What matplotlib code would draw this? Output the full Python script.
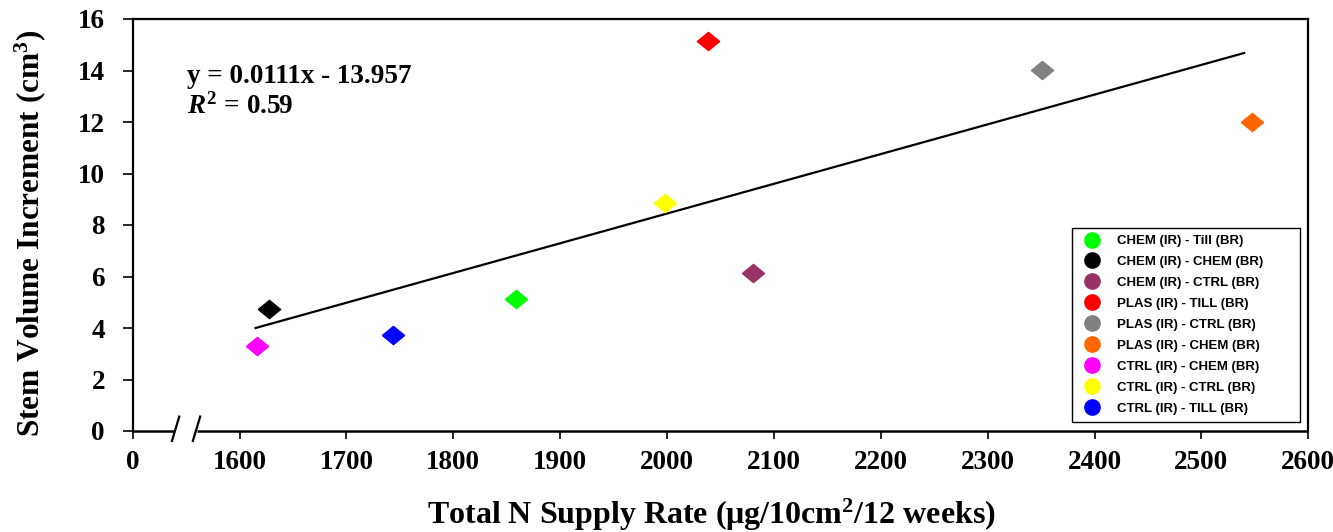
import matplotlib
matplotlib.use("Agg")
import matplotlib.pyplot as plt
from matplotlib.lines import Line2D

# datos
etiquetas = ["CHEM (IR) - Till (BR)", "CHEM (IR) - CHEM (BR)", "CHEM (IR) - CTRL (BR)",
             "PLAS (IR) - TILL (BR)", "PLAS (IR) - CTRL (BR)", "PLAS (IR) - CHEM (BR)",
             "CTRL (IR) - CHEM (BR)", "CTRL (IR) - CTRL (BR)", "CTRL (IR) - TILL (BR)"]
colores = ["#00FF00", "#000000", "#993366", "#FF0000", "#808080", "#FF6600",
           "#FF00FF", "#FFFF00", "#0000FF"]
n_supply = [1859, 1628, 2080, 2038, 2351, 2547, 1616, 1998, 1744]
volumen = [5.13, 4.74, 6.14, 15.15, 14.02, 12.0, 3.3, 8.85, 3.73]

# linea de tendencia (extremos leidos)
tend_x = [1615, 2540]
tend_y = [4.0, 14.68]

x_ticks = [1500, 1600, 1700, 1800, 1900, 2000, 2100, 2200, 2300, 2400, 2500, 2600]
x_labels = ["0"] + [str(v) for v in x_ticks[1:]]
y_ticks = list(range(0, 17, 2))

plt.rcParams["mathtext.fontset"] = "custom"
plt.rcParams["mathtext.rm"] = "Liberation Serif:bold"
plt.rcParams["mathtext.it"] = "Liberation Serif:bold:italic"
plt.rcParams["mathtext.bf"] = "Liberation Serif:bold"
plt.rcParams["mathtext.default"] = "rm"

fig = plt.figure(figsize=(13.33, 5.32), dpi=100)
ax = fig.add_axes([132.7 / 1333, 101 / 532, 1175.6 / 1333, 412 / 532])

diamante = [(-1, 0), (0, 0.82), (1, 0), (0, -0.82), (-1, 0)]
ax.plot(tend_x, tend_y, color="black", lw=1.6, zorder=2)
for x, y, c in zip(n_supply, volumen, colores):
    ax.plot(x, y, marker=diamante, ms=16, color=c, mec=c, ls="none", zorder=3)

ax.set_xlim(1500, 2600)
ax.set_ylim(0, 16)
ax.set_xticks(x_ticks)
ax.set_xticklabels(x_labels)
ax.set_yticks(y_ticks)

for lab in ax.get_xticklabels() + ax.get_yticklabels():
    lab.set_fontfamily("Liberation Serif")
    lab.set_fontweight("bold")
    lab.set_fontsize(19.5)

ax.tick_params(axis="x", direction="out", length=6, width=1.2, pad=8)
ax.tick_params(axis="y", direction="out", length=7, width=1.2, pad=13)

for s in ["top", "right", "left"]:
    ax.spines[s].set_linewidth(1.6)
ax.spines["bottom"].set_visible(False)

# eje x cortado
ax.plot([0, 0.0349], [0, 0], transform=ax.transAxes, color="black", lw=1.8,
        clip_on=False, solid_capstyle="butt")
ax.plot([0.0545, 1], [0, 0], transform=ax.transAxes, color="black", lw=1.8,
        clip_on=False, solid_capstyle="butt")
for x0 in [0.0334, 0.0512]:
    ax.plot([x0, x0 + 0.0062], [-0.024, 0.035], transform=ax.transAxes,
            color="black", lw=1.6, clip_on=False)

ax.set_ylabel("Stem Volume Increment (cm$^3$)", fontfamily="Liberation Serif",
              fontweight="bold", fontsize=22.5, va="center")
ax.yaxis.set_label_coords(-0.087, 0.48)
ax.set_xlabel("Total N Supply Rate (μg/10cm$^2$/12 weeks)", fontfamily="Liberation Serif",
              fontweight="bold", fontsize=23, va="center")
ax.xaxis.set_label_coords(0.492, -0.204)

ax.text(0.046, 0.86, "y = 0.0111x - 13.957", transform=ax.transAxes,
        fontfamily="Liberation Serif", fontweight="bold", fontsize=19.5, va="center")
ax.text(0.046, 0.787, "$\\mathit{R}^2$ = 0.59", transform=ax.transAxes,
        fontfamily="Liberation Serif", fontweight="bold", fontsize=19.5, va="center")

handles = [Line2D([], [], marker="o", ls="none", color=c, mec=c, ms=11) for c in colores]
leg = ax.legend(handles, etiquetas, loc="lower left",
                bbox_to_anchor=(0.799, 0.022, 0.1936, 0.466), mode="expand",
                prop={"family": "Liberation Sans", "weight": "bold", "size": 9.5},
                frameon=True, fancybox=False, edgecolor="black", framealpha=1,
                labelspacing=0.66, handlelength=1.95, handletextpad=0.92,
                borderpad=0.55, borderaxespad=0)
leg.get_frame().set_linewidth(1.0)

fig.savefig("out.png", dpi=100)
